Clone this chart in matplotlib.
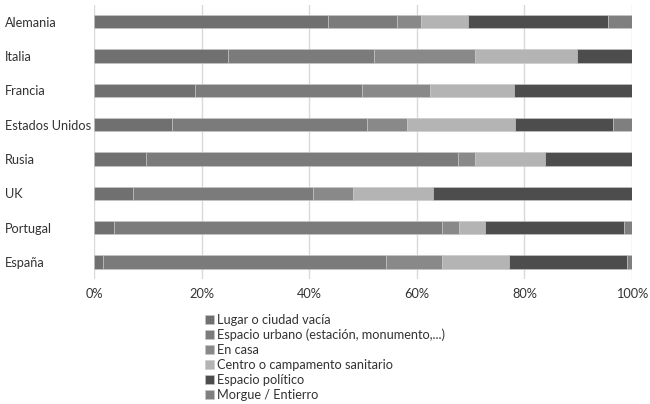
import matplotlib
matplotlib.use("Agg")
import matplotlib.pyplot as plt
import numpy as np

plt.rcParams['font.family'] = ['Lato', 'DejaVu Sans']

countries = ["Alemania", "Italia", "Francia", "Estados Unidos", "Rusia", "UK", "Portugal", "España"]
categories = ["Lugar o ciudad vacía",
              "Espacio urbano (estación, monumento,...)",
              "En casa",
              "Centro o campamento sanitario",
              "Espacio político",
              "Morgue / Entierro"]
lugar    = [43.5, 24.9, 18.7, 14.5,  9.7,  7.3,  3.7,  1.6]
urbano   = [12.8, 27.1, 31.2, 36.2, 58.0, 33.4, 61.0, 52.7]
casa     = [ 4.5, 18.8, 12.5,  7.5,  3.2,  7.4,  3.2, 10.4]
centro   = [ 8.8, 18.9, 15.7, 20.0, 13.0, 14.9,  4.8, 12.5]
politico = [26.0, 10.3, 21.9, 18.2, 16.1, 37.0, 25.8, 21.9]
morgue   = [ 4.4,  0.0,  0.0,  3.6,  0.0,  0.0,  1.5,  0.9]
series = [lugar, urbano, casa, centro, politico, morgue]
colors = ["#707070", "#7b7b7b", "#898989", "#b4b4b4", "#4d4d4d", "#7f7f7f"]
xticks = [0, 20, 40, 60, 80, 100]
xticklabels = ["0%", "20%", "40%", "60%", "80%", "100%"]

fig = plt.figure(figsize=(6.5, 4.04), dpi=100)
ax = fig.add_axes([94/650, 1-279.2/404, (632-94)/650, (279.2-4.5)/404])

y = np.arange(len(countries))
left = np.zeros(len(countries))
handles = []
for vals, col, lab in zip(series, colors, categories):
    v = np.array(vals)
    h = ax.barh(y, v, left=left, height=0.39, color=col, edgecolor="#c8c8c8",
                linewidth=0.4, label=lab, zorder=3)
    handles.append(h)
    left += v

ax.set_xlim(0, 100)
ax.set_ylim(len(countries) - 0.5, -0.5)
ax.set_xticks(xticks)
ax.set_xticklabels(xticklabels)
ax.set_yticks(y)
ax.set_yticklabels(countries)
for lab in ax.get_yticklabels():
    lab.set_horizontalalignment('left')
ax.tick_params(axis='y', length=0, pad=64, labelsize=9.2, labelcolor="#333333")
ax.tick_params(axis='x', length=0, pad=6, labelsize=9.2, labelcolor="#333333")
ax.grid(axis='x', color="#d9d9d9", linewidth=1.0, zorder=0)
for s in ax.spines.values():
    s.set_visible(False)

leg = fig.legend(handles=handles, labels=categories, loc='upper left',
                 bbox_to_anchor=(205/650, 1-314/404), frameon=False,
                 fontsize=9.2, handlelength=0.72, handleheight=0.72,
                 handletextpad=0.2, labelspacing=0.22, borderpad=0,
                 borderaxespad=0)
for t in leg.get_texts():
    t.set_color("#333333")

fig.savefig("out.png", dpi=100)
